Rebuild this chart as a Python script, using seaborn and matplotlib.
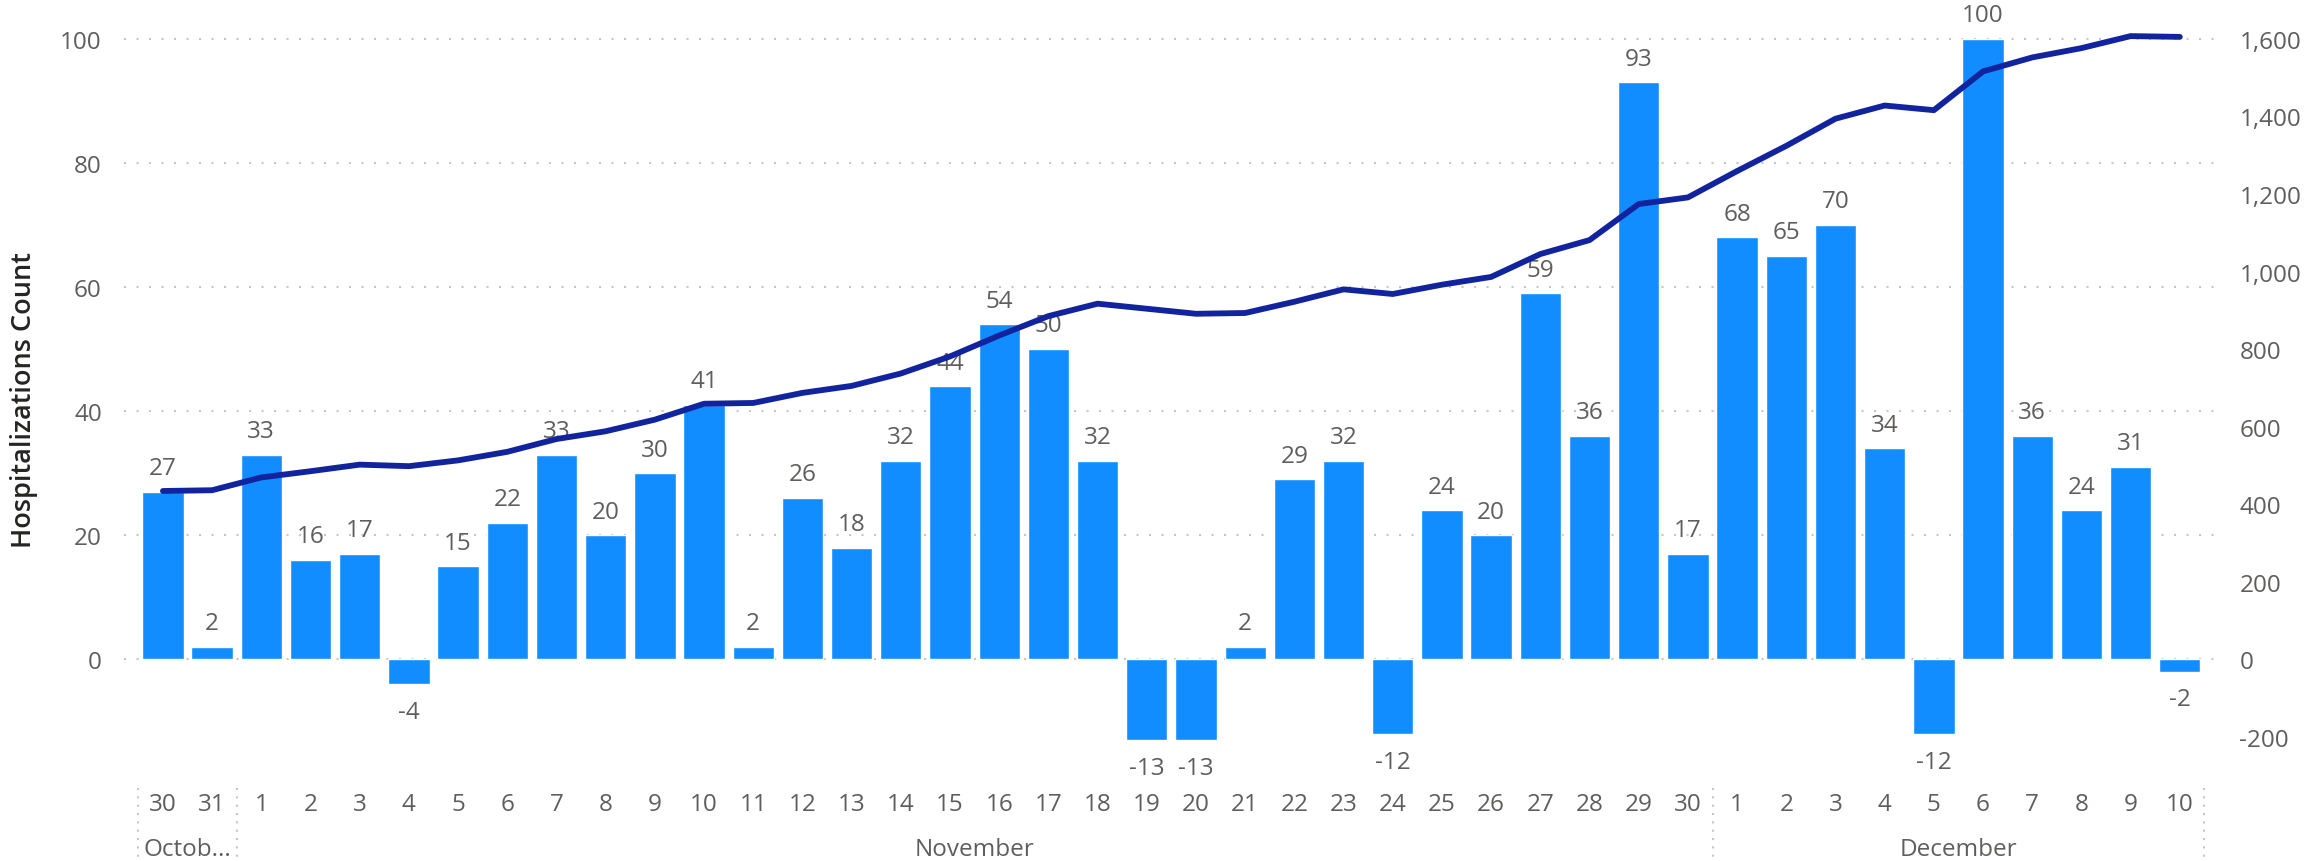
import pandas as pd
import seaborn as sns
import matplotlib.pyplot as plt
import matplotlib.transforms as mtransforms

# daily change in hospitalizations, Oct 30 - Dec 10
days = ['30', '31'] + [str(d) for d in range(1, 31)] + [str(d) for d in range(1, 11)]
daily = [27, 2, 33, 16, 17, -4, 15, 22, 33, 20, 30, 41, 2, 26, 18, 32, 44, 54, 50, 32,
         -13, -13, 2, 29, 32, -12, 24, 20, 59, 36, 93, 17, 68, 65, 70, 34, -12, 100, 36,
         24, 31, -2]
# running total (right axis)
total = [434, 436, 469, 485, 502, 498, 513, 535, 568, 588, 618, 659, 661, 687, 705, 737,
         781, 835, 885, 917, 904, 891, 893, 922, 954, 942, 966, 986, 1045, 1081, 1174,
         1191, 1259, 1324, 1394, 1428, 1416, 1516, 1552, 1576, 1607, 1605]
months = ['Octob...', 'November', 'December']
month_bounds = [-0.5, 1.5, 31.5, 41.5]

df = pd.DataFrame({'idx': range(len(days)), 'day': days, 'daily': daily, 'total': total})

sns.set_style('white')
plt.rcParams['font.family'] = ['Open Sans', 'DejaVu Sans']

bar_col = '#118DFF'
line_col = '#12239E'
txt_col = '#605E5C'

fig = plt.figure(figsize=(23.06, 8.62), dpi=100)
ax = fig.add_axes([0.0538, 0.0893, 0.9077, 0.8933])

sns.barplot(data=df, x='idx', y='daily', color=bar_col, width=0.84, saturation=1, ax=ax)

ylo, yhi = -20.1, 104
ax.set_ylim(ylo, yhi)
ax.set_xlim(-0.79, 41.76)
ax.set_yticks([0, 20, 40, 60, 80, 100])
ax.yaxis.grid(True, color='#C8C6C4', linestyle=(0, (1, 5)), linewidth=1.5)
ax.set_axisbelow(True)
for s in ax.spines.values():
    s.set_visible(False)

ax.set_xticks(range(len(days)))
ax.set_xticklabels(days)
ax.tick_params(axis='x', length=0, pad=6, labelsize=17.5, labelcolor=txt_col)
ax.tick_params(axis='y', length=0, pad=16, labelsize=17.5, labelcolor=txt_col)
ax.set_xlabel('')
ax.set_ylabel('Hospitalizations Count', fontsize=19.5, fontweight='semibold', color='#252423', labelpad=16)

# data labels
for i, v in enumerate(daily):
    off = 17 if v >= 0 else -20
    ax.annotate(str(v), (i, v), xytext=(0, off), textcoords='offset points',
                ha='center', va='center', fontsize=17.5, color=txt_col)

# month labels and separators under the axis
trans = mtransforms.blended_transform_factory(ax.transData, ax.transAxes)
for b in month_bounds:
    ax.plot([b, b], [-0.005, -0.12], transform=trans, color='#C8C6C4',
            linestyle=(0, (1, 3)), linewidth=1.5, clip_on=False)
for k, m in enumerate(months):
    mid = (month_bounds[k] + month_bounds[k + 1]) / 2
    ax.text(mid, -0.085, m, transform=trans, ha='center', va='center',
            fontsize=17.5, color=txt_col)

# running total on right axis
ax2 = ax.twinx()
sns.lineplot(data=df, x='idx', y='total', color=line_col, linewidth=4.2, ax=ax2)
ax2.set_ylim(ylo * 16, yhi * 16)
ax2.set_yticks(range(-200, 1601, 200))
ax2.set_yticklabels([f'{t:,}' for t in range(-200, 1601, 200)])
ax2.tick_params(axis='y', length=0, pad=16, labelsize=17.5, labelcolor=txt_col)
ax2.set_ylabel('')
ax2.grid(False)
for s in ax2.spines.values():
    s.set_visible(False)

fig.savefig('out.png', dpi=100)
